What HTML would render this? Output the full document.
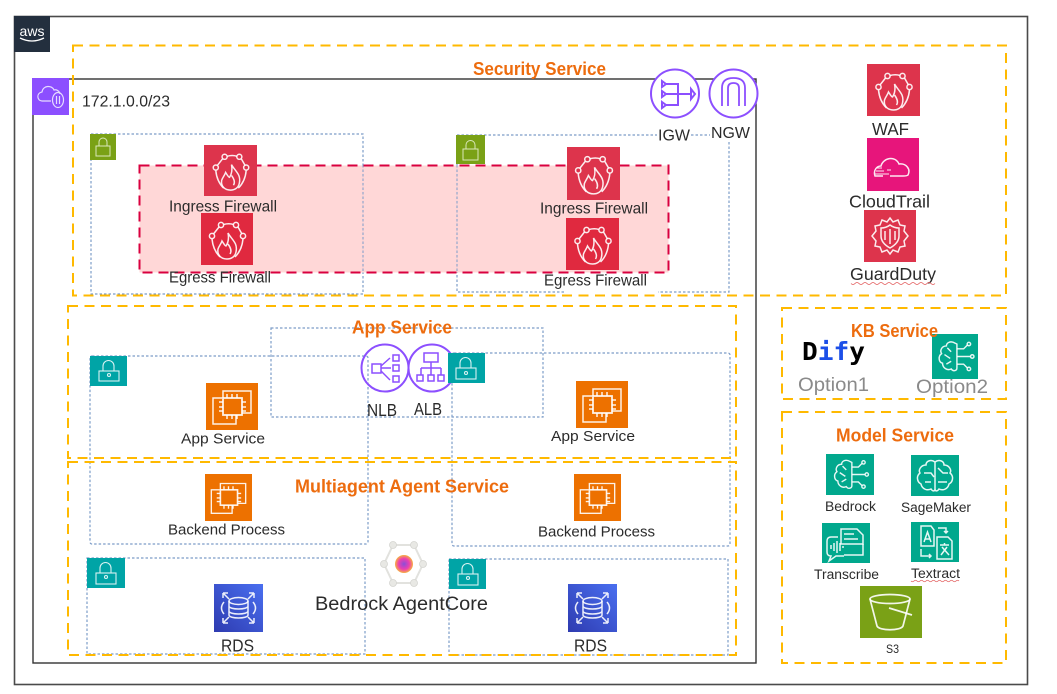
<!DOCTYPE html>
<html><head><meta charset="utf-8"><style>
html,body{margin:0;padding:0;background:#fff;width:1057px;height:694px;overflow:hidden}
svg{display:block;filter:blur(.35px)}
text{font-family:"Liberation Sans","Noto Sans CJK SC",sans-serif;fill:#2b2b2b}
.t{font-size:16px}
.l{font-size:17.500px}
.m{font-size:15px}
.s{font-size:13.500px}
.h{font-size:18.500px;font-weight:bold;fill:#ed6c0e}
.o{font-size:19px;fill:#8a8a8a}
.g{fill:none;stroke:#ffb900;stroke-width:2;stroke-dasharray:10 6.500}
.b{fill:none;stroke:#7c9cc8;stroke-width:1.200;stroke-dasharray:2.500 2}
.i{fill:none;stroke:#fff;stroke-width:1.500;stroke-opacity:.9}
.p{fill:none;stroke:#8c4fff;stroke-width:2}
</style></head><body>
<svg width="1057" height="694" viewBox="0 0 1057 694" xmlns="http://www.w3.org/2000/svg">
<defs>
<symbol id="fw" viewBox="0 0 52 52"><g class="i"><path d="M22.500 11.500Q28 10 32.500 11.500M18 14L12.500 21M37 14L41 21M11 26Q12 37 19 44M42 26Q41 37 34 44"/><circle cx="20" cy="12" r="2.600"/><circle cx="35" cy="12" r="2.600"/><circle cx="11" cy="23" r="2.600"/><circle cx="42" cy="23" r="2.600"/><path d="M27 20C31 27 37 30 35 39C34 44 30 46 26 46C20 46 16 42 17 36C18 33 20 31 21 28C23 31 24 33 25 33C27 30 28 25 27 20Z"/><path d="M27 31C30 35 31 38 29 41"/></g></symbol>
<symbol id="ec2" viewBox="0 0 52 47"><g class="i"><path d="M17 15V8H45V30H36M16 15H7V41H30V32"/><rect x="17" y="15" width="19" height="17" stroke-width="1.800"/><path d="M21 11V15M26 11V15M31 11V15M21 32V36M26 32V36M31 32V36M13 19H17M13 24H17M13 28H17M36 19H40M36 24H40M36 28H40"/></g></symbol>
<symbol id="rds" viewBox="0 0 49 48"><g class="i"><ellipse cx="24.500" cy="17" rx="9.500" ry="3.500"/><path d="M15 17V31C15 35 34 35 34 31V17M15 22C15 26 34 26 34 22M15 27C15 31 34 31 34 27"/><path d="M9 9L15 15M9 9V14M9 9H14M40 9L34 15M40 9V14M40 9H35M9 39L15 33M9 39V34M9 39H14M40 39L34 33M40 39V34M40 39H35M10 18Q5 24 10 30M39 18Q44 24 39 30"/></g></symbol>
<symbol id="brain" viewBox="0 0 48 44"><g class="i"><path d="M24 8C19 5 15 8 15 11C10 11 8 16 10 19C6 22 7 28 11 29C11 34 16 37 20 35C22 38 26 37 26 34V9Z"/><path d="M26 14H33L37 10M26 22H40M26 30H33L37 34M13 20L19 24M16 13L20 17M15 30L20 27"/><circle cx="38.500" cy="9" r="1.800"/><circle cx="42" cy="22" r="1.800"/><circle cx="38.500" cy="35" r="1.800"/></g></symbol>
<symbol id="sage" viewBox="0 0 48 41"><g class="i"><path d="M24 7C20 4 15 6 15 10C10 10 7 15 9 18C5 21 6 27 10 29C11 34 16 36 20 34C22 37 24 36 24 34ZM24 7C28 4 33 6 33 10C38 10 41 15 39 18C43 21 42 27 38 29C37 34 32 36 28 34C26 37 24 36 24 34"/><path d="M13 18H20L23 22M27 13L32 18H37M27 27H36M14 27H20"/></g></symbol>
<symbol id="trans" viewBox="0 0 48 40"><g class="i"><path d="M19 6H35L41 12V21H19Z"/><path d="M22 11H32M22 16H36M41 21V32H22M16 14H9C6 14 5 16 5 18V29C5 31 6 33 9 33L7 38L14 33H22"/><path d="M9 22V26M12 20V28M15 18V30M18 20V28M21 23V25"/></g></symbol>
<symbol id="textr" viewBox="0 0 48 40"><g class="i"><path d="M10 4H20L23 8V24H10Z"/><path d="M26 15H37L41 19V37H26Z"/><path d="M13 20L16.500 10L20 20M14 17H19M29 23H38M33.500 21V23M30 33L36 25M31 25L38 33M27 6H35V11M33 9L35 11L37 9M10 27V34H20M18 32L20 34L18 36"/></g></symbol>
<linearGradient id="rg" x1="0" y1="1" x2="1" y2="0"><stop offset="0" stop-color="#2e3bb0"/><stop offset="1" stop-color="#4a6ff0"/></linearGradient>
<radialGradient id="ag"><stop offset="0" stop-color="#8a4fd8"/><stop offset=".6" stop-color="#ee3fb0"/><stop offset="1" stop-color="#f7b040"/></radialGradient>
</defs>

<rect x="14.500" y="16.500" width="1013" height="668" fill="#fff" stroke="#4a4a4a" stroke-width="1.600"/>
<rect x="14" y="16" width="36" height="36" fill="#232f3e"/>
<text x="32" y="36" text-anchor="middle" style="font-size:14px;fill:#fff">aws</text>
<path d="M20 38Q32 44 44 38" fill="none" stroke="#fff" stroke-width="1.300"/>

<!-- VPC -->
<rect x="33" y="79" width="723" height="584" fill="none" stroke="#333" stroke-width="1.400"/>
<rect x="32" y="78" width="37" height="37" fill="#8c4fff"/>
<g fill="none" stroke="#e6dcff" stroke-width="1.200"><path d="M51 101H42C37 101 36 93 42 92C43 85 52 85 54 90C57 89 60 92 60 94"/><ellipse cx="58" cy="100" rx="5.500" ry="7.500"/><path d="M56.500 96V104M59.500 96V104"/></g>
<text x="82" y="106.500" style="font-size:16px" textLength="88" lengthAdjust="spacingAndGlyphs">172.1.0.0/23</text>

<!-- subnets top -->
<rect x="91" y="134" width="272" height="160" class="b"/>
<rect x="457" y="135" width="272" height="157" class="b"/>
<rect x="565" y="289" width="93" height="5" fill="#fff"/>

<!-- red zone -->
<rect x="139.500" y="165.500" width="529" height="107" fill="#ffd5d5" fill-opacity=".95" stroke="#d9003f" stroke-width="2" stroke-dasharray="10 6"/>
<path d="M363 165V272M457 165V272" stroke="#7c9cc8" stroke-width="1" stroke-dasharray="2.500 2"/>

<!-- Security dashed -->
<rect x="73" y="45.500" width="933" height="250" class="g"/>

<rect x="90" y="134" width="26" height="26" fill="#7aa116"/>
<rect x="456" y="135" width="29" height="29" fill="#7aa116"/>
<g fill="none" stroke="#d9e8bb" stroke-width="1"><rect x="96" y="146" width="14" height="10"/><path d="M99 146V142A4 4 0 0 1 107 142V146"/><rect x="463" y="149" width="15" height="11"/><path d="M466 149V145A4.500 4.500 0 0 1 475 145V149"/></g>

<!-- firewalls -->
<rect x="204" y="145" width="53" height="51" fill="#dd344c"/><use href="#fw" x="204" y="145" width="53" height="51"/>
<text x="169" y="211.500" class="t" textLength="108" lengthAdjust="spacingAndGlyphs">Ingress Firewall</text>
<rect x="201" y="213" width="52" height="52" fill="#e0293f"/><use href="#fw" x="201" y="213" width="52" height="52"/>
<text x="169" y="282.500" class="t" textLength="102" lengthAdjust="spacingAndGlyphs">Egress Firewall</text>
<rect x="567" y="147" width="53" height="53" fill="#dd344c"/><use href="#fw" x="567" y="147" width="53" height="53"/>
<text x="540" y="213.500" class="t" textLength="108" lengthAdjust="spacingAndGlyphs">Ingress Firewall</text>
<rect x="566" y="218" width="53" height="52" fill="#e0293f"/><use href="#fw" x="566" y="218" width="53" height="52"/>
<text x="544" y="285.500" class="t" textLength="103" lengthAdjust="spacingAndGlyphs">Egress Firewall</text>

<!-- IGW NGW -->
<circle cx="675" cy="93.500" r="24" class="p" style="fill:#fff"/>
<circle cx="733.500" cy="93.500" r="24" class="p" style="fill:#fff"/>
<g class="p" stroke-width="1.600"><path d="M662 81L666 84L662 87ZM662 91L666 94L662 97ZM662 102L666 105L662 108Z"/><path d="M666 84H678V105H666M666 94H691M691 89L695 94L691 99Z"/></g>
<g class="p"><path d="M722 106V88Q722 78 733.500 78Q745 78 745 88V106M728 106V88Q728 83 733.500 83Q739 83 739 88V106" style="stroke-width:1.800"/></g>
<rect x="657" y="127" width="34" height="15" fill="#fff"/>
<rect x="710" y="125" width="41" height="15" fill="#fff"/>
<text x="658" y="140.500" class="t" textLength="32" lengthAdjust="spacingAndGlyphs">IGW</text>
<text x="711" y="138" class="t" textLength="39" lengthAdjust="spacingAndGlyphs">NGW</text>

<text x="473" y="75" class="h" textLength="133" lengthAdjust="spacingAndGlyphs">Security Service</text>

<!-- Right security -->
<rect x="867" y="64" width="53" height="52" fill="#dd344c"/><use href="#fw" x="867" y="64" width="53" height="52"/>
<text x="872" y="135" class="l" textLength="37" lengthAdjust="spacingAndGlyphs">WAF</text>
<rect x="867" y="138" width="52" height="53" fill="#e7157b"/>
<g class="i"><path d="M883 176H875C873 170 877 166 881 166C883 158 895 155 899 164C906 163 911 169 908 175C907 176 905 176 903 176H890"/><path d="M876 171H884M875 174H889M877 168H882M887 170H891" stroke-width="1"/></g>
<text x="849" y="207.500" class="l" textLength="81" lengthAdjust="spacingAndGlyphs">CloudTrail</text>
<rect x="864" y="210" width="52" height="52" fill="#dd344c"/>
<g class="i"><path d="M890 218L893 222L898 220L900 225L905 226L904 231L908 236L904 241L905 246L900 247L898 252L893 250L890 254L887 250L882 252L880 247L875 246L876 241L872 236L876 231L875 226L880 225L882 220L887 222Z"/><path d="M881 228Q886 228 890 225Q894 228 899 228V236Q899 243 890 248Q881 243 881 236Z"/><path d="M885 231V240M890 229V244M895 231V240"/></g>
<text x="850" y="280" class="l" textLength="86" lengthAdjust="spacingAndGlyphs">GuardDuty</text>
<path d="M851 283.500q2 2 4 0t4 0t4 0t4 0t4 0t4 0t4 0t4 0t4 0t4 0t4 0t4 0t4 0t4 0t4 0t4 0t4 0t4 0t4 0t4 0t4 0" fill="none" stroke="#e25d5d" stroke-width=".8"/>

<!-- KB -->
<rect x="782" y="308" width="224" height="91" class="g"/>
<rect x="932" y="334" width="46" height="45" fill="#01a88d"/><use href="#brain" x="932" y="334" width="46" height="45"/>
<text x="851" y="337" class="h" textLength="87" lengthAdjust="spacingAndGlyphs">KB Service</text>
<text x="802" y="360" style="font-size:25px;font-weight:bold;fill:#000;font-family:'DejaVu Sans Mono',monospace" textLength="63" lengthAdjust="spacingAndGlyphs">D<tspan style="fill:#1c4fe8">if</tspan>y</text>
<text x="798" y="391" class="o" textLength="71" lengthAdjust="spacingAndGlyphs">Option1</text>
<text x="916" y="393" class="o" textLength="72" lengthAdjust="spacingAndGlyphs">Option2</text>

<!-- Model -->
<rect x="782" y="412" width="224" height="251" class="g"/>
<text x="836" y="441.500" class="h" textLength="118" lengthAdjust="spacingAndGlyphs">Model Service</text>
<rect x="826" y="454" width="48" height="41" fill="#01a88d"/><use href="#brain" x="826" y="454" width="48" height="41"/>
<text x="825" y="511" class="s" textLength="51" lengthAdjust="spacingAndGlyphs">Bedrock</text>
<rect x="911" y="455" width="48" height="41" fill="#01a88d"/><use href="#sage" x="911" y="455" width="48" height="41"/>
<text x="901" y="512" class="s" textLength="70" lengthAdjust="spacingAndGlyphs">SageMaker</text>
<rect x="822" y="523" width="48" height="40" fill="#01a88d"/><use href="#trans" x="822" y="523" width="48" height="40"/>
<text x="814" y="579" class="s" textLength="65" lengthAdjust="spacingAndGlyphs">Transcribe</text>
<rect x="911" y="522" width="48" height="40" fill="#01a88d"/><use href="#textr" x="911" y="522" width="48" height="40"/>
<text x="911" y="578" class="s" textLength="49" lengthAdjust="spacingAndGlyphs">Textract</text>
<path d="M911 581q1.500 1.500 3 0t3 0t3 0t3 0t3 0t3 0t3 0t3 0t3 0t3 0t3 0t3 0t3 0t3 0t3 0t3 0" fill="none" stroke="#e25d5d" stroke-width=".8"/>
<rect x="860" y="586" width="62" height="52" fill="#7aa116"/>
<g class="i"><ellipse cx="890" cy="599" rx="20" ry="4.500" style="stroke-width:1.700"/><path d="M870 599L877 626C879 631 901 631 903 626L910 599" style="stroke-width:1.700"/><path d="M889 608L912 615" style="stroke-width:1.700"/></g>
<text x="886" y="653" style="font-size:11.500px" textLength="13" lengthAdjust="spacingAndGlyphs">S3</text>

<!-- inner subnets -->
<rect x="271" y="328" width="272" height="89" class="b"/>
<rect x="90" y="356" width="278" height="188" class="b" rx="2"/>
<rect x="452" y="353" width="278" height="193" class="b" rx="2"/>
<rect x="87" y="558" width="278" height="96" class="b"/>
<rect x="449" y="559" width="279" height="96" class="b"/>

<!-- App / Multiagent dashed -->
<rect x="68" y="306" width="668" height="152" class="g"/>
<rect x="68" y="462" width="668" height="193" class="g"/>
<text x="352" y="333.500" class="h" textLength="100" lengthAdjust="spacingAndGlyphs">App Service</text>
<text x="295" y="492.500" class="h" textLength="214" lengthAdjust="spacingAndGlyphs">Multiagent Agent Service</text>

<!-- NLB ALB -->
<circle cx="385" cy="368" r="23.500" class="p"/>
<circle cx="432" cy="368" r="23.500" class="p"/>
<g class="p"><g style="stroke-width:1.500"><rect x="372" y="364" width="9" height="9" style="stroke-width:1.500"/><rect x="393" y="355" width="6" height="6" style="stroke-width:1.500"/><rect x="393" y="365" width="6" height="6" style="stroke-width:1.500"/><rect x="393" y="376" width="6" height="6" style="stroke-width:1.500"/><path d="M381 368H391M381 366L390 358M381 371L390 380" style="stroke-width:1.500"/></g></g>
<g class="p"><rect x="424" y="353" width="14" height="9" style="stroke-width:1.500"/><path d="M431 362V368M421 368H441M421 368V375M431 368V375M441 368V375" style="stroke-width:1.500"/><rect x="417" y="375" width="6" height="6" style="stroke-width:1.500"/><rect x="428" y="375" width="6" height="6" style="stroke-width:1.500"/><rect x="438" y="375" width="6" height="6" style="stroke-width:1.500"/></g>
<text x="367" y="416" class="l" textLength="30" lengthAdjust="spacingAndGlyphs">NLB</text>
<text x="414" y="415" class="l" textLength="28" lengthAdjust="spacingAndGlyphs">ALB</text>

<!-- locks teal -->
<g>
<rect x="90" y="356" width="37" height="30" fill="#00a4a6"/>
<rect x="448" y="353" width="37" height="30" fill="#00a4a6"/>
<rect x="87" y="558" width="38" height="30" fill="#00a4a6"/>
<rect x="449" y="559" width="37" height="30" fill="#00a4a6"/>
<g fill="none" stroke="#d8f2f2" stroke-width="1.100">
<rect x="99" y="371" width="20" height="10"/><path d="M103 371V366A5.500 5.500 0 0 1 114 366V371"/><circle cx="109" cy="375" r="1.500"/>
<rect x="456" y="368" width="20" height="11"/><path d="M460 368V363A5.500 5.500 0 0 1 471 363V368"/><circle cx="466" cy="373" r="1.500"/>
<rect x="96" y="573" width="20" height="11"/><path d="M100 573V568A5.500 5.500 0 0 1 111 568V573"/><circle cx="106" cy="577" r="1.500"/>
<rect x="458" y="574" width="20" height="11"/><path d="M462 574V569A5.500 5.500 0 0 1 473 569V574"/><circle cx="468" cy="578" r="1.500"/>
</g></g>

<!-- EC2 -->
<rect x="206" y="383" width="52" height="47" fill="#ed7100"/><use href="#ec2" x="206" y="383" width="52" height="47"/>
<text x="181" y="443.500" class="m" textLength="84" lengthAdjust="spacingAndGlyphs">App Service</text>
<rect x="576" y="381" width="52" height="47" fill="#ed7100"/><use href="#ec2" x="576" y="381" width="52" height="47"/>
<text x="551" y="441" class="m" textLength="84" lengthAdjust="spacingAndGlyphs">App Service</text>
<rect x="205" y="474" width="47" height="47" fill="#ed7100"/><use href="#ec2" x="205" y="474" width="47" height="47"/>
<text x="168" y="534.500" class="m" textLength="117" lengthAdjust="spacingAndGlyphs">Backend Process</text>
<rect x="574" y="474" width="47" height="47" fill="#ed7100"/><use href="#ec2" x="574" y="474" width="47" height="47"/>
<text x="538" y="536.500" class="m" textLength="117" lengthAdjust="spacingAndGlyphs">Backend Process</text>

<!-- RDS -->
<rect x="214" y="584" width="49" height="48" fill="url(#rg)"/><use href="#rds" x="214" y="584" width="49" height="48"/>
<text x="221" y="651.500" class="l" textLength="33" lengthAdjust="spacingAndGlyphs">RDS</text>
<rect x="568" y="584" width="49" height="48" fill="url(#rg)"/><use href="#rds" x="568" y="584" width="49" height="48"/>
<text x="574" y="651.500" class="l" textLength="33" lengthAdjust="spacingAndGlyphs">RDS</text>

<!-- AgentCore -->
<path d="M393 545H414L423 564L414 583H393L384 564Z" fill="none" stroke="#e2e2de" stroke-width="2"/>
<g fill="#e8e8e4" stroke="#d4d4d0" stroke-width=".8"><circle cx="393" cy="545" r="3.500"/><circle cx="414" cy="545" r="3.500"/><circle cx="423" cy="564" r="3.500"/><circle cx="414" cy="583" r="3.500"/><circle cx="393" cy="583" r="3.500"/><circle cx="384" cy="564" r="3.500"/></g>
<circle cx="404" cy="564" r="9" fill="url(#ag)"/>
<text x="315" y="610" style="font-size:19px" textLength="173" lengthAdjust="spacingAndGlyphs">Bedrock AgentCore</text>
</svg>
</body></html>
